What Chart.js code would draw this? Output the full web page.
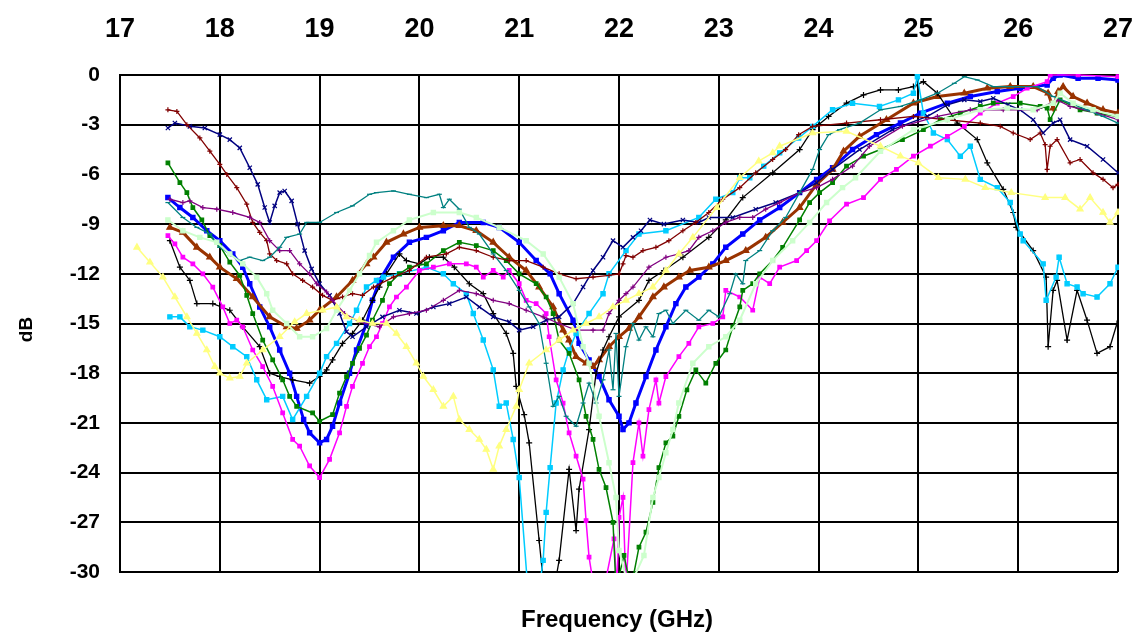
<!DOCTYPE html>
<html><head><meta charset="utf-8">
<script src="https://cdn.jsdelivr.net/npm/chart.js@4"></script>
<style>html,body{margin:0;padding:0;background:#fff}#wrap{width:1139px;height:634px}</style>
</head><body><div id="wrap"><canvas id="c" width="1139" height="634"></canvas></div>
<script>
const xTickValues = [17,18,19,20,21,22,23,24,25,26,27];
const yTickValues = [0,-3,-6,-9,-12,-15,-18,-21,-24,-27,-30];
const xTitle = 'Frequency (GHz)';
const yTitle = 'dB';

const navy = [[17.48,-3.2],[17.55,-2.9],[17.7,-3.1],[17.85,-3.2],[18.0,-3.6],[18.1,-3.9],[18.2,-4.4],[18.3,-5.6],[18.38,-6.6],[18.45,-8.0],[18.5,-8.9],[18.55,-7.9],[18.6,-7.1],[18.65,-7.0],[18.72,-7.6],[18.78,-9.0],[18.85,-10.6],[18.92,-11.7],[19.0,-12.6],[19.1,-13.3],[19.2,-14.4],[19.27,-15.5],[19.33,-15.8],[19.47,-15.2],[19.63,-14.6],[19.8,-14.2],[19.97,-14.4],[20.14,-14.0],[20.3,-13.8],[20.47,-13.4],[20.6,-14.0],[20.74,-14.6],[20.9,-14.9],[21.0,-15.4],[21.14,-15.2],[21.27,-14.8],[21.4,-14.6],[21.54,-13.8],[21.64,-12.8],[21.74,-11.8],[21.84,-11.0],[21.94,-10.0],[22.04,-10.4],[22.14,-9.8],[22.22,-9.4],[22.31,-8.75],[22.45,-9.0],[22.64,-8.75],[22.8,-8.9],[22.9,-8.6],[23.14,-8.6],[23.37,-8.1],[23.57,-7.7],[23.81,-7.1],[23.98,-6.5],[24.14,-5.7],[24.41,-4.5],[24.74,-3.3],[25.09,-2.5],[25.29,-1.8],[25.46,-1.5],[25.62,-1.6],[25.75,-1.4],[25.9,-1.8],[26.02,-2.1],[26.15,-2.7],[26.25,-3.5],[26.35,-2.9],[26.42,-2.7],[26.52,-3.9],[26.69,-4.3],[26.85,-5.1],[27.0,-5.9]];

const darkRed = [[17.48,-2.1],[17.57,-2.2],[17.67,-3.0],[17.8,-3.8],[17.9,-4.6],[18.0,-5.4],[18.07,-6.0],[18.17,-6.8],[18.27,-7.8],[18.33,-8.9],[18.4,-9.5],[18.47,-10.0],[18.5,-10.8],[18.57,-11.2],[18.67,-11.4],[18.73,-12.0],[18.83,-12.4],[18.93,-12.8],[19.03,-13.3],[19.13,-13.6],[19.23,-13.4],[19.33,-13.2],[19.43,-13.3],[19.54,-12.8],[19.74,-12.2],[19.9,-11.8],[20.07,-11.0],[20.27,-10.8],[20.4,-10.4],[20.57,-10.6],[20.74,-11.0],[20.9,-11.2],[21.07,-11.2],[21.24,-11.6],[21.4,-12.0],[21.57,-12.3],[21.74,-12.2],[21.9,-12.1],[22.0,-12.0],[22.04,-11.4],[22.07,-10.9],[22.14,-11.0],[22.24,-10.6],[22.37,-10.4],[22.5,-10.0],[22.64,-9.4],[22.77,-8.9],[22.9,-8.3],[23.04,-7.5],[23.21,-6.8],[23.37,-5.9],[23.54,-5.1],[23.67,-4.5],[23.8,-3.6],[23.94,-3.1],[24.28,-2.9],[24.62,-2.7],[24.95,-2.5],[25.29,-2.7],[25.62,-2.9],[25.82,-3.1],[25.95,-3.5],[26.12,-3.9],[26.22,-3.5],[26.27,-4.2],[26.29,-5.7],[26.32,-4.3],[26.39,-3.9],[26.52,-5.3],[26.62,-5.1],[26.75,-5.9],[26.85,-6.3],[26.95,-6.8],[27.0,-6.6]];

const green = [[17.48,-5.3],[17.6,-6.5],[17.67,-7.1],[17.73,-8.0],[17.82,-8.75],[17.9,-9.7],[18.0,-10.3],[18.1,-11.3],[18.2,-12.1],[18.27,-13.3],[18.33,-14.4],[18.43,-16.0],[18.53,-17.2],[18.63,-18.4],[18.7,-19.4],[18.77,-20.0],[18.93,-20.4],[19.0,-20.9],[19.13,-20.5],[19.2,-19.2],[19.27,-18.2],[19.33,-17.4],[19.4,-16.5],[19.47,-15.7],[19.53,-14.8],[19.63,-13.6],[19.7,-12.6],[19.8,-12.0],[19.9,-11.6],[20.07,-11.4],[20.24,-10.6],[20.4,-10.1],[20.57,-10.3],[20.74,-10.6],[20.87,-11.2],[21.0,-12.0],[21.17,-12.6],[21.27,-13.4],[21.34,-14.4],[21.4,-16.0],[21.5,-16.8],[21.6,-18.4],[21.67,-20.6],[21.74,-22.0],[21.8,-23.8],[21.87,-24.9],[21.94,-27.0],[21.97,-31],[22.05,-29],[22.12,-31],[22.2,-28.5],[22.27,-27.6],[22.34,-25.8],[22.4,-23.7],[22.47,-22.2],[22.54,-21.8],[22.6,-20.6],[22.68,-19.0],[22.77,-17.8],[22.87,-18.6],[22.97,-17.4],[23.07,-16.6],[23.14,-15.2],[23.21,-14.0],[23.24,-13.0],[23.34,-12.6],[23.41,-12.0],[23.54,-11.2],[23.64,-10.4],[23.81,-8.75],[23.91,-7.7],[24.01,-7.1],[24.14,-6.5],[24.28,-5.5],[24.45,-4.9],[24.62,-4.5],[24.84,-3.9],[25.05,-3.3],[25.22,-2.7],[25.42,-2.3],[25.62,-1.9],[25.75,-1.7],[26.02,-1.7],[26.22,-1.9],[26.29,-2.0],[26.32,-2.7],[26.42,-1.5],[26.62,-2.1],[26.79,-2.3],[27.0,-2.5]];

const blue = [[17.48,-7.4],[17.6,-8.0],[17.73,-8.6],[17.87,-9.4],[18.0,-10.0],[18.13,-10.8],[18.23,-11.6],[18.3,-12.6],[18.4,-14.0],[18.5,-15.2],[18.6,-16.6],[18.7,-18.0],[18.77,-19.4],[18.84,-20.8],[18.9,-21.6],[19.0,-22.2],[19.07,-22.0],[19.13,-21.2],[19.2,-19.8],[19.3,-18.0],[19.37,-16.6],[19.47,-15.0],[19.53,-13.6],[19.6,-12.4],[19.74,-11.0],[19.9,-10.1],[20.07,-9.8],[20.24,-9.4],[20.4,-8.9],[20.64,-8.9],[20.8,-9.2],[21.0,-10.1],[21.17,-11.2],[21.31,-12.0],[21.4,-13.2],[21.54,-14.8],[21.6,-16.2],[21.7,-17.2],[21.8,-18.2],[21.9,-19.6],[22.0,-20.6],[22.04,-21.4],[22.1,-21.0],[22.17,-19.8],[22.27,-18.2],[22.37,-16.6],[22.47,-15.2],[22.57,-13.8],[22.67,-12.8],[22.8,-12.2],[22.94,-11.4],[23.07,-10.4],[23.24,-9.6],[23.41,-8.75],[23.61,-8.0],[23.81,-7.1],[23.98,-6.3],[24.14,-5.6],[24.34,-4.5],[24.58,-3.6],[24.82,-2.9],[25.02,-2.3],[25.29,-1.7],[25.52,-1.3],[25.79,-1.0],[26.02,-0.8],[26.29,-0.6],[26.35,-0.2],[26.42,0],[26.6,-0.2],[26.8,-0.2],[27.0,-0.3]];

const brown = [[17.5,-9.2],[17.63,-9.5],[17.77,-10.4],[17.9,-11.0],[18.0,-11.6],[18.17,-12.3],[18.33,-13.4],[18.5,-14.6],[18.67,-15.2],[18.77,-15.3],[18.9,-14.8],[19.0,-14.2],[19.17,-13.4],[19.33,-12.4],[19.47,-11.4],[19.54,-11.0],[19.67,-10.1],[19.84,-9.6],[20.0,-9.2],[20.24,-9.1],[20.4,-9.1],[20.57,-9.4],[20.74,-10.1],[20.9,-11.0],[21.07,-11.8],[21.2,-12.8],[21.34,-14.0],[21.44,-15.4],[21.5,-16.0],[21.57,-17.0],[21.67,-17.4],[21.74,-17.6],[21.8,-17.2],[21.9,-16.4],[22.0,-15.8],[22.1,-15.3],[22.2,-14.6],[22.34,-13.4],[22.45,-12.8],[22.6,-12.2],[22.71,-11.8],[22.9,-11.6],[23.07,-11.2],[23.27,-10.6],[23.47,-9.8],[23.64,-8.9],[23.81,-8.0],[23.98,-6.6],[24.14,-5.7],[24.25,-4.6],[24.41,-3.7],[24.68,-2.7],[24.95,-1.7],[25.19,-1.3],[25.46,-1.1],[25.69,-0.8],[25.92,-0.7],[26.15,-0.7],[26.3,-1.1],[26.35,-2.0],[26.4,-1.0],[26.45,-0.7],[26.55,-1.3],[26.69,-1.7],[26.85,-2.1],[27.0,-2.3]];

const lightGreen = [[17.48,-8.75],[17.63,-9.4],[17.8,-9.8],[17.97,-10.1],[18.1,-10.8],[18.23,-11.4],[18.37,-12.2],[18.47,-13.2],[18.53,-14.2],[18.67,-15.0],[18.8,-15.8],[18.93,-15.8],[19.07,-15.3],[19.17,-14.2],[19.3,-13.0],[19.4,-12.0],[19.5,-10.9],[19.57,-10.1],[19.74,-9.4],[19.9,-8.75],[20.14,-8.3],[20.4,-8.3],[20.57,-8.6],[20.8,-9.2],[21.07,-10.0],[21.24,-10.8],[21.4,-12.2],[21.54,-13.8],[21.64,-16.4],[21.7,-17.4],[21.8,-20.6],[21.9,-23.4],[21.97,-25.5],[22.0,-28.7],[22.1,-31],[22.25,-29],[22.34,-25.5],[22.4,-24.3],[22.47,-22.8],[22.54,-21.4],[22.6,-19.8],[22.74,-17.4],[22.9,-16.4],[23.07,-15.8],[23.21,-14.8],[23.37,-12.6],[23.54,-11.2],[23.74,-10.0],[23.91,-8.9],[24.08,-7.7],[24.24,-6.8],[24.37,-6.2],[24.62,-4.6],[24.95,-3.3],[25.29,-2.7],[25.62,-2.1],[25.89,-2.0],[26.15,-2.1],[26.35,-1.7],[26.42,-1.1],[26.55,-1.7],[26.75,-2.1],[27.0,-2.5]];

const teal = [[17.48,-7.7],[17.63,-8.6],[17.77,-9.2],[17.9,-9.6],[18.0,-10.4],[18.1,-10.8],[18.2,-11.2],[18.3,-11.0],[18.43,-11.2],[18.5,-11.0],[18.6,-10.4],[18.67,-9.8],[18.8,-9.6],[18.87,-8.9],[19.0,-8.9],[19.17,-8.3],[19.33,-7.9],[19.5,-7.2],[19.57,-7.1],[19.74,-7.0],[19.9,-7.2],[20.07,-7.4],[20.2,-7.2],[20.24,-8.0],[20.3,-7.5],[20.4,-8.1],[20.5,-9.2],[20.6,-9.6],[20.74,-10.8],[20.87,-11.8],[21.0,-13.0],[21.1,-14.0],[21.2,-15.0],[21.27,-17.4],[21.34,-20.0],[21.4,-19.4],[21.47,-20.6],[21.57,-21.2],[21.64,-19.8],[21.7,-18.6],[21.77,-19.8],[21.84,-18.4],[21.9,-16.6],[21.94,-19.0],[21.97,-15.6],[22.0,-19.4],[22.07,-16.4],[22.14,-15.0],[22.2,-16.0],[22.27,-15.2],[22.34,-15.8],[22.4,-14.4],[22.47,-14.2],[22.54,-15.0],[22.67,-14.2],[22.8,-14.8],[22.9,-14.2],[23.0,-14.6],[23.11,-13.2],[23.17,-12.0],[23.24,-12.6],[23.27,-11.2],[23.41,-10.6],[23.54,-9.4],[23.67,-8.6],[23.81,-7.1],[23.94,-5.7],[24.01,-4.5],[24.1,-3.6],[24.21,-3.3],[24.41,-2.9],[24.62,-2.1],[24.82,-1.9],[25.02,-1.5],[25.19,-1.1],[25.36,-0.5],[25.46,-0.1],[25.59,-0.3],[25.75,-0.7],[25.95,-0.7],[26.19,-0.7],[26.35,-1.3],[26.52,-1.7],[26.69,-2.1],[26.85,-2.5],[27.0,-2.9]];

const purple = [[17.5,-7.5],[17.63,-7.7],[17.7,-7.6],[17.83,-8.0],[17.97,-8.1],[18.13,-8.3],[18.3,-8.6],[18.4,-8.9],[18.5,-10.0],[18.6,-10.6],[18.7,-10.6],[18.8,-11.4],[18.9,-12.0],[18.97,-12.6],[19.07,-13.1],[19.13,-13.6],[19.25,-14.4],[19.4,-14.9],[19.6,-15.2],[19.74,-14.6],[19.9,-14.4],[20.07,-14.2],[20.24,-13.6],[20.4,-13.0],[20.57,-13.2],[20.74,-13.6],[20.9,-13.8],[21.07,-14.2],[21.24,-14.6],[21.4,-15.0],[21.57,-15.4],[21.74,-15.4],[21.84,-15.4],[21.9,-14.4],[22.0,-13.6],[22.07,-13.2],[22.14,-12.8],[22.3,-11.6],[22.47,-11.0],[22.6,-10.8],[22.7,-10.6],[22.8,-9.8],[22.94,-9.4],[23.07,-8.9],[23.21,-8.6],[23.34,-8.6],[23.47,-8.1],[23.61,-7.7],[23.81,-7.1],[23.98,-6.8],[24.14,-6.3],[24.34,-5.5],[24.51,-4.3],[24.84,-3.1],[25.19,-2.5],[25.52,-2.1],[25.85,-2.1],[26.19,-2.1],[26.39,-1.5],[26.52,-1.9],[26.79,-2.3],[27.0,-2.7]];

const yellow = [[17.17,-10.4],[17.3,-11.3],[17.43,-12.2],[17.55,-13.4],[17.67,-14.6],[17.77,-15.6],[17.87,-16.6],[17.95,-17.6],[18.0,-18.0],[18.1,-18.3],[18.2,-18.2],[18.27,-17.4],[18.43,-16.6],[18.6,-15.8],[18.75,-14.9],[18.87,-14.4],[19.03,-14.2],[19.17,-14.0],[19.27,-14.6],[19.4,-14.8],[19.53,-15.0],[19.67,-15.0],[19.77,-15.6],[19.87,-16.4],[19.97,-17.4],[20.04,-18.2],[20.14,-19.0],[20.24,-20.0],[20.34,-19.4],[20.4,-20.8],[20.5,-21.4],[20.6,-22.0],[20.67,-22.6],[20.74,-23.8],[20.8,-22.4],[20.87,-21.4],[20.97,-20.0],[21.0,-19.0],[21.1,-17.4],[21.27,-16.6],[21.4,-16.0],[21.54,-15.4],[21.67,-15.0],[21.8,-14.6],[21.94,-14.0],[22.07,-13.6],[22.2,-13.2],[22.34,-12.8],[22.47,-11.8],[22.6,-10.8],[22.74,-9.8],[22.98,-8.0],[23.21,-6.2],[23.4,-5.2],[23.54,-4.7],[23.61,-4.3],[23.94,-3.5],[24.28,-3.4],[24.62,-4.3],[24.82,-4.9],[25.0,-5.3],[25.2,-6.2],[25.47,-6.3],[25.67,-6.8],[25.93,-7.1],[26.27,-7.4],[26.47,-7.4],[26.62,-8.1],[26.72,-7.4],[26.85,-8.3],[26.92,-8.9],[27.0,-8.3]];

const black = [[17.5,-10.0],[17.6,-11.6],[17.7,-12.4],[17.77,-13.8],[17.93,-13.8],[18.1,-14.2],[18.23,-15.2],[18.4,-16.4],[18.5,-18.0],[18.6,-18.2],[18.73,-18.4],[18.9,-18.6],[19.0,-18.2],[19.07,-17.8],[19.13,-17.2],[19.23,-16.2],[19.33,-15.6],[19.43,-14.8],[19.53,-13.6],[19.6,-12.8],[19.67,-12.0],[19.8,-10.8],[19.87,-11.2],[20.0,-11.4],[20.1,-11.0],[20.24,-11.0],[20.35,-11.6],[20.5,-12.6],[20.64,-13.2],[20.74,-14.4],[20.87,-15.6],[20.94,-16.8],[20.97,-18.8],[21.05,-20.5],[21.1,-22.2],[21.2,-28.1],[21.24,-30.5],[21.35,-31],[21.4,-29.3],[21.5,-23.8],[21.57,-27.5],[21.6,-25.0],[21.7,-21.4],[21.77,-18.0],[21.84,-16.6],[21.9,-15.8],[22.0,-14.6],[22.2,-13.6],[22.3,-12.4],[22.45,-11.8],[22.64,-11.0],[22.9,-9.8],[23.07,-8.75],[23.24,-7.4],[23.54,-5.9],[23.81,-4.5],[23.94,-3.3],[24.1,-2.5],[24.28,-1.7],[24.45,-1.2],[24.62,-0.9],[24.8,-0.9],[24.95,-0.7],[25.05,-0.4],[25.19,-1.1],[25.39,-2.9],[25.59,-3.9],[25.69,-5.3],[25.85,-6.9],[25.95,-8.3],[25.98,-9.2],[26.15,-10.6],[26.28,-12.2],[26.3,-16.4],[26.35,-13.0],[26.39,-12.4],[26.49,-16.0],[26.59,-13.0],[26.69,-14.8],[26.79,-16.8],[26.92,-16.4],[26.99,-15.0]];

const cyan = [[17.5,-14.6],[17.6,-14.6],[17.7,-15.2],[17.83,-15.4],[18.0,-15.8],[18.13,-16.4],[18.27,-17.0],[18.37,-18.4],[18.47,-19.6],[18.63,-19.4],[18.73,-20.8],[18.87,-19.4],[19.0,-18.0],[19.07,-17.0],[19.17,-16.2],[19.3,-15.0],[19.37,-14.2],[19.47,-12.8],[19.57,-12.4],[19.64,-12.2],[19.8,-12.0],[20.07,-11.6],[20.24,-12.0],[20.34,-12.6],[20.47,-13.2],[20.54,-14.4],[20.64,-16.0],[20.74,-17.8],[20.8,-20.0],[20.87,-19.8],[20.94,-22.0],[21.0,-24.3],[21.08,-30.5],[21.2,-31],[21.24,-29.3],[21.27,-26.4],[21.31,-23.7],[21.37,-19.8],[21.44,-17.8],[21.5,-16.6],[21.57,-15.6],[21.7,-14.4],[21.84,-13.2],[21.9,-12.0],[22.07,-10.6],[22.2,-9.6],[22.47,-9.4],[22.8,-8.6],[22.97,-7.5],[23.14,-7.1],[23.21,-6.2],[23.31,-6.2],[23.45,-5.5],[23.61,-4.7],[23.8,-3.8],[23.94,-3.1],[24.14,-2.1],[24.34,-1.7],[24.61,-1.9],[24.8,-1.5],[24.95,-1.1],[24.99,-0.1],[25.05,-2.3],[25.15,-3.5],[25.29,-3.9],[25.42,-4.9],[25.52,-4.3],[25.62,-6.3],[25.79,-6.8],[25.92,-7.7],[26.02,-9.6],[26.05,-10.0],[26.25,-11.4],[26.28,-13.6],[26.38,-12.2],[26.41,-11.0],[26.49,-12.6],[26.59,-12.8],[26.65,-13.2],[26.79,-13.4],[26.92,-12.6],[27.0,-11.6]];

const magenta = [[17.48,-9.7],[17.55,-10.2],[17.63,-11.0],[17.73,-11.4],[17.83,-12.0],[17.93,-12.8],[18.03,-14.0],[18.1,-15.0],[18.17,-14.8],[18.23,-15.2],[18.33,-16.6],[18.43,-17.6],[18.53,-18.8],[18.63,-20.4],[18.73,-22.0],[18.8,-22.4],[18.9,-23.6],[19.0,-24.3],[19.1,-23.2],[19.2,-21.6],[19.27,-20.0],[19.33,-18.8],[19.43,-17.4],[19.5,-16.4],[19.57,-15.8],[19.63,-15.0],[19.7,-14.0],[19.77,-13.4],[19.87,-12.8],[20.0,-11.8],[20.14,-11.6],[20.3,-11.4],[20.47,-11.4],[20.57,-11.6],[20.64,-12.2],[20.74,-11.8],[20.84,-12.2],[20.9,-11.8],[21.0,-12.6],[21.07,-13.6],[21.17,-13.8],[21.27,-14.4],[21.3,-15.8],[21.37,-18.4],[21.44,-19.8],[21.5,-21.6],[21.57,-23.0],[21.64,-24.4],[21.67,-26.9],[21.7,-29.1],[21.75,-31],[21.85,-31],[21.95,-28],[21.98,-31],[22.0,-26.7],[22.04,-25.5],[22.07,-31],[22.14,-23.4],[22.2,-21.0],[22.24,-23.0],[22.3,-20.2],[22.37,-18.4],[22.4,-19.8],[22.47,-18.2],[22.6,-17.0],[22.7,-16.2],[22.8,-15.2],[22.94,-15.0],[23.04,-14.6],[23.07,-13.0],[23.21,-13.4],[23.34,-14.2],[23.41,-12.2],[23.51,-12.6],[23.61,-11.6],[23.78,-11.2],[23.88,-10.6],[23.98,-10.0],[24.11,-8.8],[24.28,-7.8],[24.45,-7.4],[24.62,-6.3],[24.78,-5.7],[24.95,-4.9],[25.12,-4.3],[25.29,-3.7],[25.46,-3.1],[25.62,-2.3],[25.79,-1.7],[25.95,-1.3],[26.09,-0.8],[26.29,-0.4],[26.32,0],[26.6,0],[27.0,-0.1]];

const series = [
  {data: yellow, color:'#FFFF80', style:'triangle', r:3.5, w:1.5},
  {data: lightGreen, color:'#CCFFCC', style:'rect', r:3, w:2},
  {data: teal, color:'#008080', style:'line', r:2.5, w:1.3},
  {data: purple, color:'#800080', style:'cross', r:2.5, w:1.3},
  {data: darkRed, color:'#800000', style:'cross', r:2.5, w:1.3},
  {data: navy, color:'#000080', style:'crossRot', r:3, w:1.5},
  {data: green, color:'#008000', style:'rect', r:2.5, w:1.5},
  {data: magenta, color:'#FF00FF', style:'rect', r:2.5, w:1.5},
  {data: cyan, color:'#00CCFF', style:'rect', r:3, w:1.5},
  {data: black, color:'#000000', style:'cross', r:3, w:1.3},
  {data: brown, color:'#993300', style:'triangle', r:3.5, w:3},
  {data: blue, color:'#0000FF', style:'rect', r:3, w:3}
];

const FONT = '"Liberation Sans", Arial, sans-serif';

const titles = {
  id: 'titles',
  afterDraw(chart) {
    const {ctx, chartArea} = chart;
    ctx.save();
    ctx.fillStyle = '#000';
    ctx.textAlign = 'center';
    ctx.textBaseline = 'middle';
    ctx.font = 'bold 24px ' + FONT;
    ctx.fillText(xTitle, (chartArea.left + chartArea.right) / 2 - 2, 620);
    ctx.translate(27, (chartArea.top + chartArea.bottom) / 2 + 6);
    ctx.rotate(-Math.PI / 2);
    ctx.font = 'bold 19px ' + FONT;
    ctx.fillText(yTitle, 0, 0);
    ctx.restore();
  }
};

new Chart(document.getElementById('c'), {
  type: 'scatter',
  data: {
    datasets: series.map(s => ({
      data: s.data.map(p => ({x: p[0], y: p[1]})),
      showLine: true,
      borderColor: s.color,
      backgroundColor: s.color,
      pointBackgroundColor: s.color,
      pointBorderColor: s.color,
      pointStyle: s.style,
      pointRadius: s.r,
      pointBorderWidth: 1.2,
      borderWidth: s.w,
      tension: 0,
      clip: 1
    }))
  },
  options: {
    responsive: false,
    animation: false,
    devicePixelRatio: 1,
    layout: {padding: {left: 0, right: 21, top: 0, bottom: 62}},
    plugins: {legend: {display: false}, tooltip: {enabled: false}},
    scales: {
      x: {
        type: 'linear', position: 'top', min: 17, max: 27,
        afterBuildTicks: sc => { sc.ticks = xTickValues.map(v => ({value: v})); },
        afterFit: sc => { sc.height = 75; sc.paddingLeft = 0; sc.paddingRight = 0; },
        grid: {color: '#000', lineWidth: 2, drawTicks: false},
        border: {color: '#000', width: 2},
        ticks: {color: '#000', font: {family: FONT, size: 27, weight: 'bold'}, padding: 29, maxRotation: 0}
      },
      y: {
        min: -30, max: 0,
        afterBuildTicks: sc => { sc.ticks = yTickValues.map(v => ({value: v})); },
        afterFit: sc => { sc.width = 120; sc.paddingTop = 0; sc.paddingBottom = 0; },
        grid: {color: '#000', lineWidth: 2, drawTicks: false},
        border: {color: '#000', width: 2},
        ticks: {color: '#000', font: {family: FONT, size: 21, weight: 'bold'}, padding: 20}
      }
    }
  },
  plugins: [titles]
});
</script></body></html>
